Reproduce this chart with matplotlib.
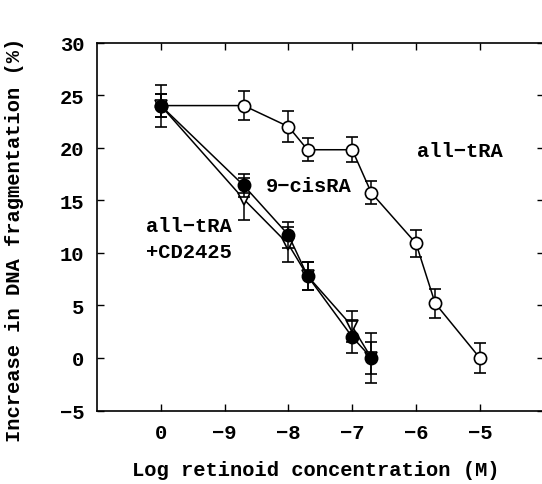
import matplotlib
matplotlib.use('Agg')
import matplotlib.pyplot as plt

# Log concentrations (0 = control)
conc_all = [0, -8.7, -8, -7.7, -7, -6.7, -6, -5.7, -5]
frag_all = [24, 24, 22, 19.8, 19.8, 15.7, 10.9, 5.2, 0]
err_all = [1.1, 1.4, 1.5, 1.1, 1.2, 1.1, 1.3, 1.4, 1.4]

conc_cis = [0, -8.7, -8, -7.7, -7, -6.7]
frag_cis = [24, 16.4, 11.7, 7.8, 2.0, 0]
err_cis = [2.0, 1.1, 1.2, 1.3, 1.55, 2.35]

conc_cd = [0, -8.7, -8, -7.7, -7, -6.7]
frag_cd = [24, 15.1, 10.8, 7.8, 3.0, 0]
err_cd = [1.1, 2.0, 1.7, 1.3, 1.5, 1.5]

tick_labels = ['0', '\u22129', '\u22128', '\u22127', '\u22126', '\u22125']


def to_pos(vals):
    # control at 0, then -9 .. -5 placed at 1 .. 5
    return [0 if v == 0 else v + 10 for v in vals]


plt.rcParams['font.family'] = ['Liberation Mono', 'DejaVu Sans Mono']
plt.rcParams['font.weight'] = 'bold'
plt.rcParams['axes.unicode_minus'] = True

fs = 14.8

fig = plt.figure(figsize=(5.42, 4.85), dpi=100)
ax = fig.add_axes([97 / 542, 73.5 / 485, 446.6 / 542, 368 / 485])

style = dict(color='black', lw=1.1, capsize=4.3, elinewidth=1.1, capthick=1.1,
             markersize=8.8, markeredgewidth=1.2)

ax.errorbar(to_pos(conc_cd), frag_cd, yerr=err_cd, fmt='-v', markerfacecolor='white',
            markeredgecolor='black', zorder=2, **style)
ax.errorbar(to_pos(conc_cis), frag_cis, yerr=err_cis, fmt='-o', markerfacecolor='black',
            markeredgecolor='black', zorder=3, **style)
ax.errorbar(to_pos(conc_all), frag_all, yerr=err_all, fmt='-o', markerfacecolor='white',
            markeredgecolor='black', zorder=1, **style)

ax.set_xlim(-1, 6)
ax.set_ylim(-5, 30)
ax.set_xticks(range(6))
ax.set_xticklabels(tick_labels)
ax.set_yticks(range(-5, 31, 5))

ax.tick_params(direction='in', length=5, width=1, top=True, right=True,
               labelsize=fs, pad=9)
for sp in ax.spines.values():
    sp.set_linewidth(1.2)

ax.set_xlabel('Log retinoid concentration (M)', fontsize=fs, fontweight='bold')
ax.set_ylabel('Increase in DNA fragmentation (%)', fontsize=fs, fontweight='bold')
ax.xaxis.set_label_coords(0.489, -0.134)
ax.yaxis.set_label_coords(-0.184, 0.466)
ax.yaxis.label.set_verticalalignment('center')

ax.text(4.02, 19.7, 'all\u2212tRA', fontsize=fs, ha='left', va='center')
ax.text(1.65, 16.4, '9\u2212cisRA', fontsize=fs, ha='left', va='center')
ax.text(-0.23, 12.6, 'all\u2212tRA', fontsize=fs, ha='left', va='center')
ax.text(-0.23, 10.1, '+CD2425', fontsize=fs, ha='left', va='center')

fig.savefig('out.png', dpi=100)
